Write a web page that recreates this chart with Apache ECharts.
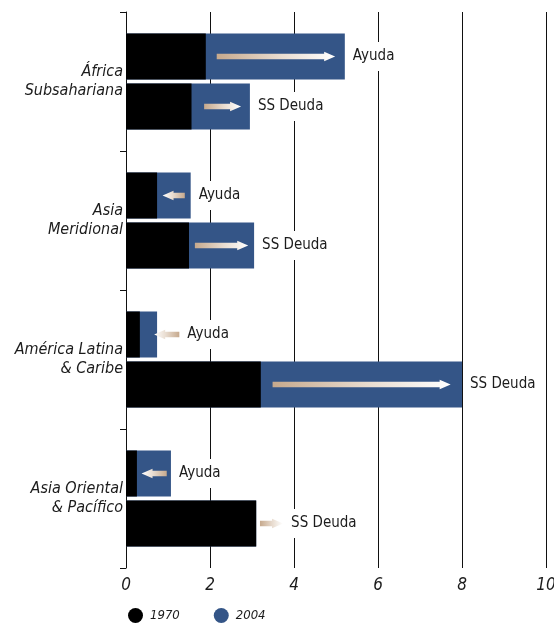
<!DOCTYPE html>
<html>
<head>
<meta charset="utf-8">
<script src="https://cdn.jsdelivr.net/npm/echarts@6/dist/echarts.min.js"></script>
<style>
  html, body { margin: 0; padding: 0; background: #fff; overflow: hidden; }
  #chart { width: 554px; height: 623px; }
</style>
</head>
<body>
<div id="chart"></div>
<script>
// Regions (top to bottom) and the two flows shown for each
const regions = ['África\nSubsahariana', 'Asia\nMeridional', 'América Latina\n& Caribe', 'Asia Oriental\n& Pacífico'];
const measures = ['Ayuda', 'SS Deuda'];

// Aid, % of GNI
const ayuda1970 = [1.90, 0.74, 0.33, 0.26];
const ayuda2004 = [5.21, 1.54, 0.74, 1.07];

// Debt service, % of GNI
const deuda1970 = [1.56, 1.50, 3.21, 3.10];
const deuda2004 = [2.95, 3.05, 8.00, 3.10];

// Trend arrows, [tail, head] in axis units
const ayudaArrow = [[2.16, 4.98], [1.40, 0.87], [1.27, 0.67], [0.97, 0.37]];
const deudaArrow = [[1.86, 2.74], [1.64, 2.91], [3.49, 7.73], [3.19, 3.74]];

// Value-axis ticks
const xTicks = { min: 0, max: 10, interval: 2 };

const BLUE = '#345587';
const INK = '#1c1c1c';
const NARROW = 'DejaVu Sans Condensed';
const BAR_W = 46;
const BAR_GAP = 4;
const GAP_PCT = (BAR_GAP / BAR_W * 100).toFixed(1) + '%';

// one arrow + caption per region/flow
const arrowData = [];
regions.forEach((r, i) => {
  arrowData.push([ayudaArrow[i][0], ayudaArrow[i][1], i, 0, Math.max(ayuda1970[i], ayuda2004[i])]);
  arrowData.push([deudaArrow[i][0], deudaArrow[i][1], i, 1, Math.max(deuda1970[i], deuda2004[i])]);
});

function renderArrow(params, api) {
  const tail = api.value(0), head = api.value(1);
  const r = api.value(2), side = api.value(3), barEnd = api.value(4);
  const yc = api.coord([0, r])[1] + (side === 0 ? -1 : 1) * (BAR_W + BAR_GAP) / 2;
  const x0 = api.coord([tail, r])[0];
  const x1 = api.coord([head, r])[0];
  const dir = x1 >= x0 ? 1 : -1;
  const h = 2.7, H = 4.8, hl = 11 * dir;
  const pts = [
    [x0, yc - h], [x1 - hl, yc - h], [x1 - hl, yc - H], [x1, yc],
    [x1 - hl, yc + H], [x1 - hl, yc + h], [x0, yc + h]
  ];
  const fill = new echarts.graphic.LinearGradient(dir > 0 ? 0 : 1, 0, dir > 0 ? 1 : 0, 0, [
    { offset: 0, color: '#c6a98d' },
    { offset: 0.55, color: '#e9ddd1' },
    { offset: 1, color: '#ffffff' }
  ]);
  const labelX = api.coord([Math.max(barEnd, tail, head), r])[0] + 6;
  return {
    type: 'group',
    children: [
      { type: 'polygon', shape: { points: pts }, style: { fill: fill } },
      {
        type: 'text', x: labelX, y: yc,
        style: {
          text: measures[side], fill: INK, fontSize: 15, fontFamily: NARROW,
          align: 'left', verticalAlign: 'middle',
          backgroundColor: '#fff', padding: [7, 2]
        }
      }
    ]
  };
}

const chart = echarts.init(document.getElementById('chart'), null, { renderer: 'canvas' });
chart.setOption({
  animation: false,
  backgroundColor: '#fff',
  grid: { left: 126, right: 8, top: 12, bottom: 55, containLabel: false, outerBoundsMode: 'none' },
  legend: {
    data: ['1970', '2004'],
    left: 128, top: 608, padding: 0,
    icon: 'circle', itemWidth: 15, itemHeight: 15, itemGap: 34,
    textStyle: { fontSize: 13, fontStyle: 'italic', fontFamily: NARROW, color: INK, padding: [0, 0, 0, 2] },
    selectedMode: false
  },
  xAxis: {
    type: 'value', min: xTicks.min, max: xTicks.max, interval: xTicks.interval,
    axisLine: { show: false }, axisTick: { show: false },
    splitLine: { show: true, lineStyle: { color: '#111', width: 1 } },
    axisLabel: { fontSize: 17, fontStyle: 'italic', fontFamily: NARROW, color: INK, margin: 9 }
  },
  yAxis: [
    {
      type: 'category', data: regions, inverse: true,
      axisLine: { show: true, lineStyle: { color: '#111', width: 1 } },
      axisTick: { show: true, length: 6, lineStyle: { color: '#111' } },
      axisLabel: {
        fontSize: 16, fontStyle: 'italic', fontFamily: NARROW, color: INK,
        lineHeight: 19, margin: 3, align: 'right'
      },
      splitLine: { show: false }
    },
    { type: 'category', data: regions, inverse: true, show: false }
  ],
  series: [
    { name: '2004', type: 'bar', yAxisIndex: 0, data: ayuda2004, barWidth: BAR_W, barGap: GAP_PCT, itemStyle: { color: BLUE } },
    { name: '2004', type: 'bar', yAxisIndex: 0, data: deuda2004, barWidth: BAR_W, barGap: GAP_PCT, itemStyle: { color: BLUE } },
    { name: '1970', type: 'bar', yAxisIndex: 1, data: ayuda1970, barWidth: BAR_W, barGap: GAP_PCT, itemStyle: { color: '#000' } },
    { name: '1970', type: 'bar', yAxisIndex: 1, data: deuda1970, barWidth: BAR_W, barGap: GAP_PCT, itemStyle: { color: '#000' } },
    {
      type: 'custom', yAxisIndex: 0, z: 5, clip: false,
      data: arrowData, encode: { x: [0, 1], y: 2 },
      renderItem: renderArrow, silent: true
    }
  ]
});
</script>
</body>
</html>
